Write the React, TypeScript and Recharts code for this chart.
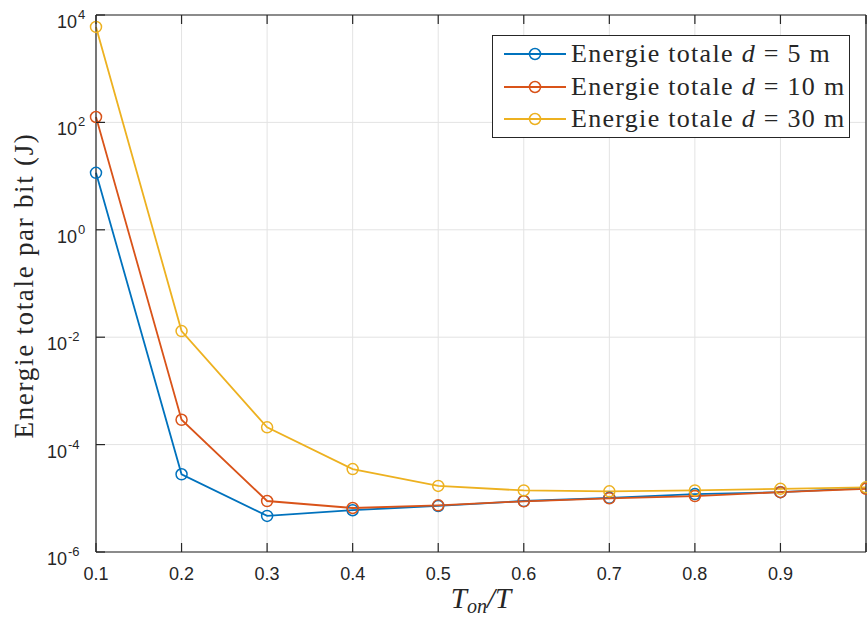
import React from 'react';
import { LineChart, Line, XAxis, YAxis, CartesianGrid, Legend } from 'recharts';

// duty cycle values (Ton/T)
const ratios = [0.1, 0.2, 0.3, 0.4, 0.5, 0.6, 0.7, 0.8, 0.9, 1.0];

// total energy per bit (J)
const energyD5 = [11.5, 2.8e-5, 4.7e-6, 6.0e-6, 7.2e-6, 8.9e-6, 1.02e-5, 1.2e-5, 1.3e-5, 1.55e-5];
const energyD10 = [126, 2.9e-4, 8.9e-6, 6.6e-6, 7.4e-6, 8.8e-6, 1.0e-5, 1.1e-5, 1.3e-5, 1.5e-5];
const energyD30 = [6000, 0.013, 2.1e-4, 3.5e-5, 1.7e-5, 1.4e-5, 1.35e-5, 1.4e-5, 1.5e-5, 1.6e-5];

const distances = ['5', '10', '30'];
const xTicks = [0.1, 0.2, 0.3, 0.4, 0.5, 0.6, 0.7, 0.8, 0.9, 1.0];
const yTicks = [1e-6, 1e-4, 1e-2, 1, 1e2, 1e4];
const yExponents = ['-6', '-4', '-2', '0', '2', '4'];

const COLORS = ['#0072BD', '#D95319', '#EDB120'];
const AXIS = '#262626';
const TICK_FONT = 'Liberation Sans';
const SERIF = 'Liberation Serif';

const data = ratios.map((r, i) => ({
  ratio: r,
  d5: energyD5[i],
  d10: energyD10[i],
  d30: energyD30[i],
}));

const XTick = (props: any) => {
  const { x, y, payload } = props;
  const v = payload.value;
  return (
    <g>
      <line x1={x} x2={x} y1={y} y2={y - 9} stroke={AXIS} strokeWidth={1.2} />
      {v < 0.95 && (
        <text x={x} y={y + 28} textAnchor="middle" fontFamily={TICK_FONT} fontSize={18} fill={AXIS}>
          {v.toFixed(1)}
        </text>
      )}
    </g>
  );
};

const TopTick = (props: any) => {
  const { x, y } = props;
  return <line x1={x} x2={x} y1={y} y2={y + 9} stroke={AXIS} strokeWidth={1.2} />;
};

const YTick = (props: any) => {
  const { x, y, payload } = props;
  const idx = yTicks.indexOf(payload.value);
  const exp = yExponents[idx] ?? '';
  const neg = exp.startsWith('-');
  return (
    <g>
      <line x1={x} x2={x + 9} y1={y} y2={y} stroke={AXIS} strokeWidth={1.2} />
      <text x={neg ? x - 29 : x - 19} y={y + 13} textAnchor="end" fontFamily={TICK_FONT} fontSize={18} fill={AXIS}>
        10
      </text>
      <text x={neg ? x - 28 : x - 18} y={y + 4} textAnchor="start" fontFamily={TICK_FONT} fontSize={13} fill={AXIS}>
        {exp}
      </text>
    </g>
  );
};

const RightTick = (props: any) => {
  const { x, y } = props;
  return <line x1={x} x2={x - 9} y1={y} y2={y} stroke={AXIS} strokeWidth={1.2} />;
};

const YTitle = (props: any) => {
  const { viewBox } = props;
  const cy = viewBox.y + viewBox.height / 2 + 2;
  const cx = 33;
  return (
    <text
      x={cx}
      y={cy}
      transform={`rotate(-90, ${cx}, ${cy})`}
      textAnchor="middle"
      fontFamily={SERIF}
      fontSize={27}
      letterSpacing={1.7}
      fill={AXIS}
    >
      Energie totale par bit (J)
    </text>
  );
};

const XTitle = (props: any) => {
  const { viewBox } = props;
  const cx = viewBox.x + viewBox.width / 2;
  return (
    <text x={cx} y={608} textAnchor="middle" fontFamily={SERIF} fontSize={29} fontStyle="italic" fill={AXIS}>
      T<tspan fontSize={20} dy={5}>on</tspan>
      <tspan dy={-5}>/T</tspan>
    </text>
  );
};

const LegendBox = () => (
  <div
    style={{
      width: 358,
      height: 103,
      boxSizing: 'border-box',
      border: `1.3px solid ${AXIS}`,
      background: '#fff',
      position: 'relative',
      fontFamily: SERIF,
      fontSize: 26,
      letterSpacing: 1.3,
      color: AXIS,
    }}
  >
    {distances.map((d, i) => (
      <div
        key={d}
        style={{
          position: 'absolute',
          left: 0,
          top: 2 + i * 32.5,
          height: 32,
          display: 'flex',
          alignItems: 'center',
          whiteSpace: 'pre',
        }}
      >
        <svg width={78} height={32} style={{ display: 'block' }}>
          <line x1={11} x2={73} y1={16} y2={16} stroke={COLORS[i]} strokeWidth={1.8} />
          <circle cx={42} cy={16} r={5.5} fill="none" stroke={COLORS[i]} strokeWidth={1.5} />
        </svg>
        <span>
          {'Energie totale '}
          <i>d</i>
          {` = ${d} m`}
        </span>
      </div>
    ))}
  </div>
);

const series = [
  { key: 'd5', color: COLORS[0] },
  { key: 'd10', color: COLORS[1] },
  { key: 'd30', color: COLORS[2] },
];

export default function App() {
  return (
    <div style={{ position: 'absolute', left: 0, top: 0, background: '#fff' }}>
      <LineChart width={867} height={618} data={data} margin={{ top: 14, right: 0, bottom: 36, left: 36 }}>
        <CartesianGrid stroke="#e3e3e3" strokeWidth={1} />
        <XAxis
          dataKey="ratio"
          type="number"
          domain={[0.1, 1]}
          ticks={xTicks}
          interval={0}
          height={30}
          tickSize={0}
          tickMargin={0}
          tick={<XTick />}
          axisLine={{ stroke: AXIS, strokeWidth: 1.2 }}
          label={<XTitle />}
        />
        <XAxis
          xAxisId="top"
          orientation="top"
          dataKey="ratio"
          type="number"
          domain={[0.1, 1]}
          ticks={xTicks}
          interval={0}
          height={1}
          tickSize={0}
          tickMargin={0}
          tick={<TopTick />}
          axisLine={{ stroke: AXIS, strokeWidth: 1.2 }}
        />
        <YAxis
          scale="log"
          type="number"
          domain={[1e-6, 1e4]}
          ticks={yTicks}
          interval={0}
          width={60}
          tickSize={0}
          tickMargin={0}
          tick={<YTick />}
          axisLine={{ stroke: AXIS, strokeWidth: 1.2 }}
          label={<YTitle />}
        />
        <YAxis
          yAxisId="right"
          orientation="right"
          scale="log"
          type="number"
          domain={[1e-6, 1e4]}
          ticks={yTicks}
          interval={0}
          width={1}
          tickSize={0}
          tickMargin={0}
          tick={<RightTick />}
          axisLine={{ stroke: AXIS, strokeWidth: 1.2 }}
        />
        {series.map((s) => (
          <Line
            key={s.key}
            dataKey={s.key}
            stroke={s.color}
            strokeWidth={1.8}
            dot={{ r: 5.5, fill: 'none', stroke: s.color, strokeWidth: 1.5 }}
            activeDot={false}
            isAnimationActive={false}
          />
        ))}
        <Legend
          layout="horizontal"
          verticalAlign="middle"
          align="center"
          wrapperStyle={{ left: 492, top: 35, width: 358, height: 103 }}
          content={() => <LegendBox />}
        />
      </LineChart>
    </div>
  );
}
